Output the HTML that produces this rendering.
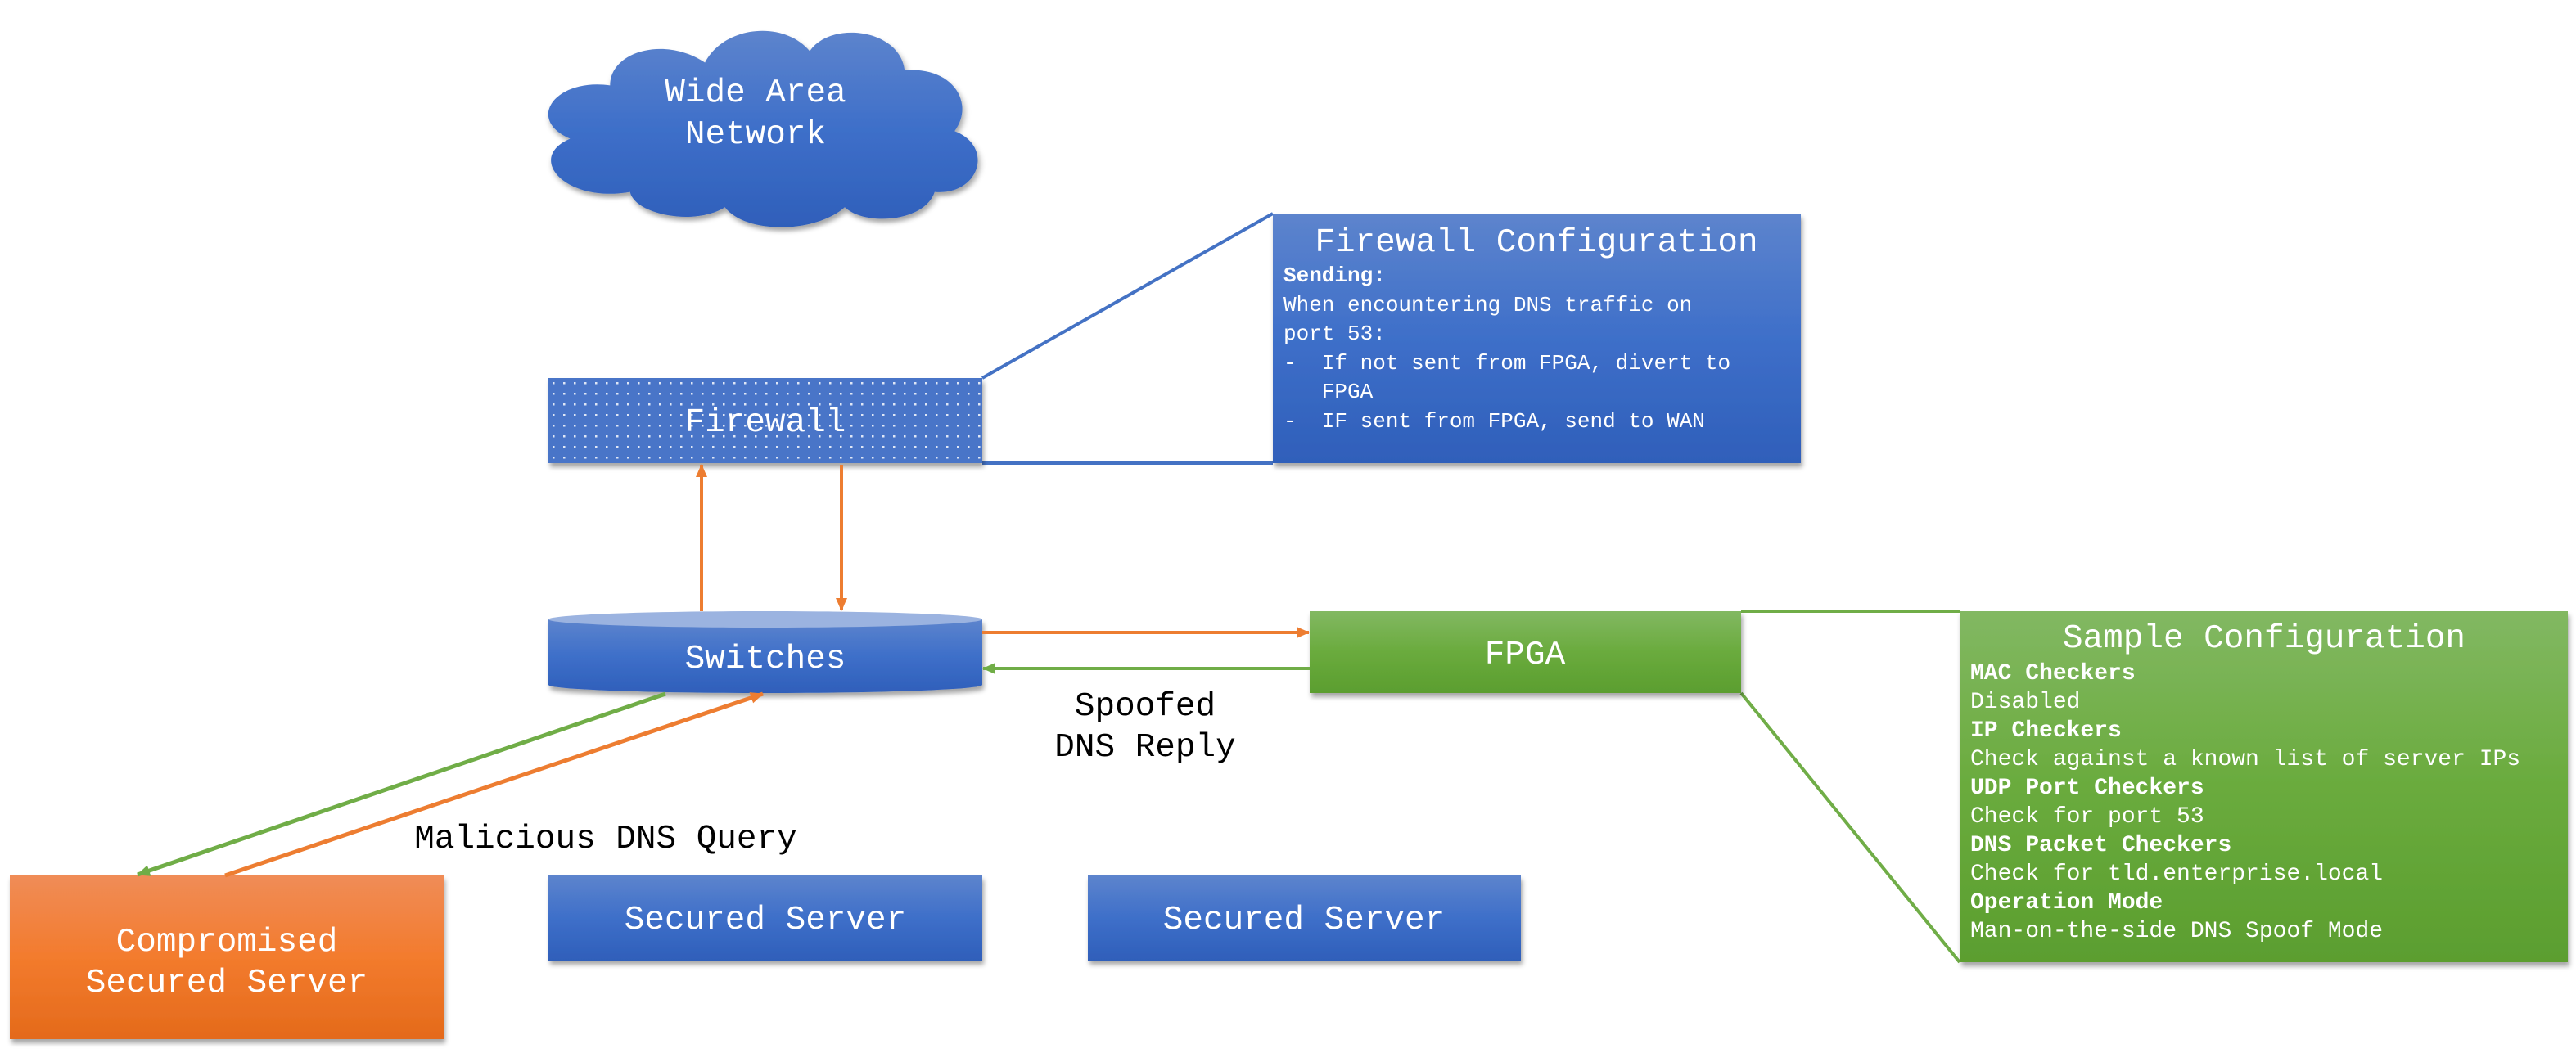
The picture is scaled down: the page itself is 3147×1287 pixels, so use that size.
<!DOCTYPE html>
<html><head><meta charset="utf-8"><style>
html,body{margin:0;padding:0;background:#fff;}
svg{display:block;}
text{font-family:"Liberation Mono",monospace;white-space:pre;}
</style></head><body>
<svg width="3147" height="1287" viewBox="0 0 3147 1287" xmlns="http://www.w3.org/2000/svg" xml:space="preserve">
<defs>
<linearGradient id="gb" x1="0" y1="0" x2="0" y2="1"><stop offset="0" stop-color="#5d84cd"/><stop offset="0.5" stop-color="#3e6fc9"/><stop offset="1" stop-color="#2f5fba"/></linearGradient>
<linearGradient id="gg" x1="0" y1="0" x2="0" y2="1"><stop offset="0" stop-color="#82b862"/><stop offset="0.5" stop-color="#6aab3d"/><stop offset="1" stop-color="#5b9e2f"/></linearGradient>
<linearGradient id="go" x1="0" y1="0" x2="0" y2="1"><stop offset="0" stop-color="#f08c57"/><stop offset="0.5" stop-color="#f37b2d"/><stop offset="1" stop-color="#e46a1b"/></linearGradient>
<pattern id="dots" x="670" y="462" width="13" height="13" patternUnits="userSpaceOnUse"><rect width="13" height="13" fill="#4a75c8"/><rect x="5" y="5" width="2.5" height="2.5" fill="#dfe7f6"/></pattern>
<filter id="sh" x="-5%" y="-5%" width="110%" height="120%"><feDropShadow dx="2" dy="5" stdDeviation="3" flood-color="#000" flood-opacity="0.35"/></filter>
<marker id="ao" markerWidth="16" markerHeight="14" refX="15" refY="7" orient="auto" markerUnits="userSpaceOnUse"><path d="M0,0 L16,7 L0,14 z" fill="#ed7d31"/></marker>
<marker id="ag" markerWidth="16" markerHeight="14" refX="15" refY="7" orient="auto" markerUnits="userSpaceOnUse"><path d="M0,0 L16,7 L0,14 z" fill="#70ad47"/></marker>
</defs>

<!-- cloud -->
<g filter="url(#sh)" fill="url(#gb)" transform="translate(666,30) scale(1.22,0.93) translate(-680,-25)">
<path d="M745,105 C745,60 800,40 840,75 C860,25 920,20 945,60 C965,20 1035,30 1040,85 C1090,80 1110,130 1090,165 C1130,185 1115,250 1070,245 C1060,285 1000,290 980,265 C950,300 880,300 860,265 C830,290 770,275 765,245 C700,260 660,200 705,175 C660,150 690,95 745,105 Z"/>
</g>
<text x="923" y="124" fill="#fff" font-size="41" text-anchor="middle">Wide Area</text>
<text x="923" y="175" fill="#fff" font-size="41" text-anchor="middle">Network</text>

<!-- callout lines -->
<line x1="1200" y1="462" x2="1555" y2="261" stroke="#4472c4" stroke-width="4"/>
<line x1="1200" y1="566" x2="1555" y2="566" stroke="#4472c4" stroke-width="4"/>
<line x1="2127" y1="747" x2="2394" y2="747" stroke="#70ad47" stroke-width="4"/>
<line x1="2127" y1="847" x2="2394" y2="1176" stroke="#70ad47" stroke-width="4"/>

<!-- firewall -->
<rect x="670" y="462" width="530" height="104" fill="url(#dots)" filter="url(#sh)"/>
<text x="935" y="527" fill="#fff" font-size="41" text-anchor="middle">Firewall</text>

<!-- firewall config -->
<rect x="1555" y="261" width="645" height="305" fill="url(#gb)" filter="url(#sh)"/>
<text x="1877" y="307" fill="#fff" font-size="41" text-anchor="middle">Firewall Configuration</text>
<g fill="#fff" font-size="26">
<text x="1568" y="344" font-weight="bold">Sending:</text>
<text x="1568" y="380">When encountering DNS traffic on</text>
<text x="1568" y="415">port 53:</text>
<text x="1568" y="451">-  If not sent from FPGA, divert to</text>
<text x="1568" y="486">   FPGA</text>
<text x="1568" y="522">-  IF sent from FPGA, send to WAN</text>
</g>

<!-- switches cylinder -->
<g filter="url(#sh)">
<path d="M670,757 L670,837 A265,10 0 0 0 1200,837 L1200,757 Z" fill="url(#gb)"/>
</g>
<ellipse cx="935" cy="757" rx="265" ry="10" fill="#9bb3e0"/>
<text x="935" y="816" fill="#fff" font-size="41" text-anchor="middle">Switches</text>

<!-- FPGA -->
<rect x="1600" y="747" width="527" height="100" fill="url(#gg)" filter="url(#sh)"/>
<text x="1863" y="811" fill="#fff" font-size="41" text-anchor="middle">FPGA</text>

<!-- sample config -->
<rect x="2394" y="747" width="743" height="429" fill="url(#gg)" filter="url(#sh)"/>
<text x="2766" y="791" fill="#fff" font-size="41" text-anchor="middle">Sample Configuration</text>
<g fill="#fff" font-size="28">
<text x="2407" y="830" font-weight="bold">MAC Checkers</text>
<text x="2407" y="865">Disabled</text>
<text x="2407" y="900" font-weight="bold">IP Checkers</text>
<text x="2407" y="935">Check against a known list of server IPs</text>
<text x="2407" y="970" font-weight="bold">UDP Port Checkers</text>
<text x="2407" y="1005">Check for port 53</text>
<text x="2407" y="1040" font-weight="bold">DNS Packet Checkers</text>
<text x="2407" y="1075">Check for tld.enterprise.local</text>
<text x="2407" y="1110" font-weight="bold">Operation Mode</text>
<text x="2407" y="1145">Man-on-the-side DNS Spoof Mode</text>
</g>

<!-- servers -->
<rect x="12" y="1070" width="530" height="200" fill="url(#go)" filter="url(#sh)"/>
<text x="277" y="1162" fill="#fff" font-size="41" text-anchor="middle">Compromised</text>
<text x="277" y="1212" fill="#fff" font-size="41" text-anchor="middle">Secured Server</text>
<rect x="670" y="1070" width="530" height="104" fill="url(#gb)" filter="url(#sh)"/>
<text x="935" y="1135" fill="#fff" font-size="41" text-anchor="middle">Secured Server</text>
<rect x="1329" y="1070" width="529" height="104" fill="url(#gb)" filter="url(#sh)"/>
<text x="1593" y="1135" fill="#fff" font-size="41" text-anchor="middle">Secured Server</text>

<!-- arrows -->
<line x1="857" y1="747" x2="857" y2="568" stroke="#ed7d31" stroke-width="4" marker-end="url(#ao)"/>
<line x1="1028" y1="568" x2="1028" y2="746" stroke="#ed7d31" stroke-width="4" marker-end="url(#ao)"/>
<line x1="1200" y1="773" x2="1599" y2="773" stroke="#ed7d31" stroke-width="4" marker-end="url(#ao)"/>
<line x1="1600" y1="817" x2="1201" y2="817" stroke="#70ad47" stroke-width="4" marker-end="url(#ag)"/>
<line x1="813" y1="848" x2="168" y2="1069" stroke="#70ad47" stroke-width="5" marker-end="url(#ag)"/>
<line x1="275" y1="1070" x2="932" y2="848" stroke="#ed7d31" stroke-width="5" marker-end="url(#ao)"/>

<!-- labels -->
<text x="1399" y="874" fill="#000" font-size="41" text-anchor="middle">Spoofed</text>
<text x="1399" y="924" fill="#000" font-size="41" text-anchor="middle">DNS Reply</text>
<text x="740" y="1036" fill="#000" font-size="41" text-anchor="middle">Malicious DNS Query</text>
</svg>
</body></html>
